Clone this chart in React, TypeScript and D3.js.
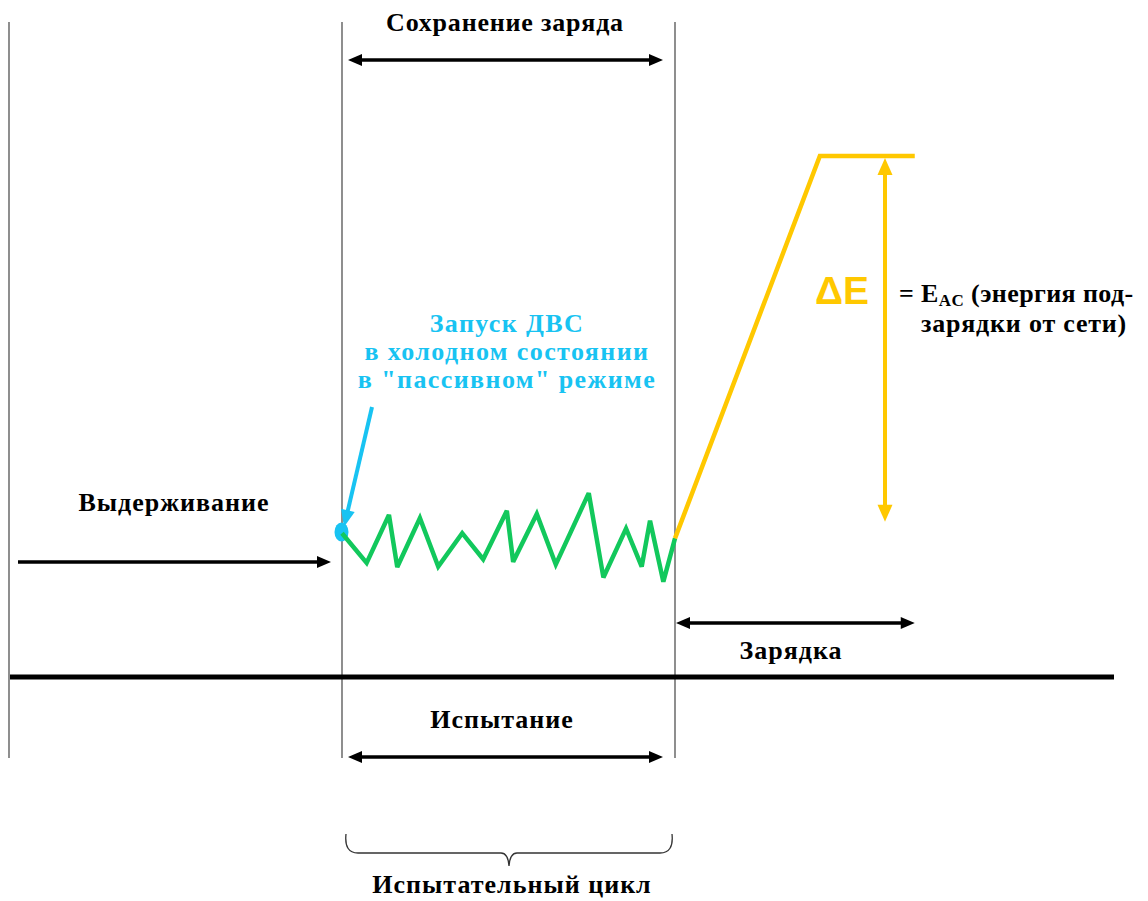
import React from "react";
import * as d3 from "d3";

// Abstract units: time t (test cycle 0..100), energy E (0..100)
const soakStart = -100;
const testStart = 0;
const testEnd = 100;
const chargeEnd = 172;

const greenT = [0, 7.4, 14.1, 16.6, 23.4, 28.9, 36.1, 42.4, 49.5, 51.4, 58.5, 64.2, 74.1, 78.5, 85.3, 90.0, 92.5, 96.5, 100];
const greenE = [27.6, 21.9, 31.1, 21.1, 30.5, 21.2, 27.6, 22.6, 31.9, 22.1, 31.3, 21.6, 35.3, 19.1, 28.5, 21.2, 30.0, 18.3, 26.6];
const yellowT = [100, 143.5, 172];
const yellowE = [26.6, 100, 100];

const labels = {
  keep: "Сохранение заряда",
  soak: "Выдерживание",
  charge: "Зарядка",
  test: "Испытание",
  cycle: "Испытательный цикл",
  start: ["Запуск ДВС", "в холодном состоянии", "в \"пассивном\" режиме"],
  de: "ΔE",
  eq1a: "= E",
  eqSub: "AC",
  eq1b: " (энергия под-",
  eq2: "зарядки от сети)",
};

const W = 1148, H = 901;
const x = d3.scaleLinear().domain([soakStart, testEnd]).range([9, 675]);
const y = d3.scaleLinear().domain([0, 100]).range([677, 156]);

const GREEN = "#12c85c";
const YELLOW = "#ffc800";
const BLUE = "#18c3f2";
const serif = "'Liberation Serif', 'Times New Roman', serif";
const FS = 26;

function Head({ x1, y1, x2, y2, len, wid, fill }: any) {
  const a = Math.atan2(y2 - y1, x2 - x1);
  const bx = x2 - len * Math.cos(a), by = y2 - len * Math.sin(a);
  const px = Math.sin(a) * wid / 2, py = -Math.cos(a) * wid / 2;
  return <polygon points={`${x2},${y2} ${bx + px},${by + py} ${bx - px},${by - py}`} fill={fill} />;
}

function Arrow({ x1, y1, x2, y2, both, color = "#000", sw = 3.5, len = 14, wid = 12 }: any) {
  const a = Math.atan2(y2 - y1, x2 - x1);
  const lx1 = both ? x1 + (len - 2) * Math.cos(a) : x1;
  const ly1 = both ? y1 + (len - 2) * Math.sin(a) : y1;
  const lx2 = x2 - (len - 2) * Math.cos(a), ly2 = y2 - (len - 2) * Math.sin(a);
  return (
    <g>
      <line x1={lx1} y1={ly1} x2={lx2} y2={ly2} stroke={color} strokeWidth={sw} />
      <Head x1={x1} y1={y1} x2={x2} y2={y2} len={len} wid={wid} fill={color} />
      {both && <Head x1={x2} y1={y2} x2={x1} y2={y1} len={len} wid={wid} fill={color} />}
    </g>
  );
}

function Label({ x, y, children, fill = "#000", ls = 1, anchor = "middle" }: any) {
  return (
    <text x={x} y={y} textAnchor={anchor} fontFamily={serif} fontWeight="bold" fontSize={FS} letterSpacing={ls} fill={fill}>{children}</text>
  );
}

export default function App() {
  const line = d3.line<[number, number]>().x(d => x(d[0])).y(d => y(d[1]));
  const greenPts = greenT.map((t, i) => [t, greenE[i]] as [number, number]);
  const yellowPts = yellowT.map((t, i) => [t, yellowE[i]] as [number, number]);
  const xs = x(testStart), xe = x(testEnd), xc = x(chargeEnd), x0 = x(soakStart);
  const bl = 346, br = 672, bm = (bl + br) / 2;
  return (
    <svg width={W} height={H} style={{ position: "absolute", left: 0, top: 0, background: "#fff" }}>
      {/* vertical thin lines */}
      {[x0, xs, xe].map((vx, i) => (
        <line key={i} x1={vx} y1={22} x2={vx} y2={758} stroke="#444" strokeWidth={1.2} />
      ))}
      {/* baseline */}
      <line x1={10} y1={y(0)} x2={1114} y2={y(0)} stroke="#000" strokeWidth={5} />

      {/* top arrow */}
      <Label x={505} y={31} ls={0.8}>{labels.keep}</Label>
      <Arrow x1={348} y1={60} x2={663} y2={60} both />

      {/* soak */}
      <Label x={174} y={511}>{labels.soak}</Label>
      <Arrow x1={18} y1={562} x2={331} y2={562} />

      {/* charge */}
      <Arrow x1={676} y1={623} x2={xc} y2={623} both />
      <Label x={791} y={659}>{labels.charge}</Label>

      {/* test */}
      <Label x={502} y={728}>{labels.test}</Label>
      <Arrow x1={348} y1={757} x2={663} y2={757} both />

      {/* brace */}
      <path
        d={`M${bl},${834} Q${bl - 2},${853} ${bl + 12},${853} L${bm - 8},${853} Q${bm - 1},${853} ${bm},${866} Q${bm + 1},${853} ${bm + 8},${853} L${br - 12},${853} Q${br + 2},${853} ${br},${834}`}
        fill="none" stroke="#333" strokeWidth={1.3} />
      <Label x={512} y={893}>{labels.cycle}</Label>

      {/* blue annotation */}
      {labels.start.map((s, i) => (
        <Label key={i} x={507} y={332 + i * 28} ls={1.4} fill={BLUE}>{s}</Label>
      ))}
      <Arrow x1={372} y1={407} x2={344} y2={527} color={BLUE} sw={4} len={17} wid={14} />
      <ellipse cx={341.5} cy={532} rx={7} ry={9.5} fill={BLUE} />

      {/* green SOC */}
      <path d={line(greenPts) || ""} fill="none" stroke={GREEN} strokeWidth={4.5} strokeLinejoin="miter" strokeMiterlimit={3} />
      {/* yellow charge */}
      <path d={line(yellowPts) || ""} fill="none" stroke={YELLOW} strokeWidth={4.5} strokeLinejoin="miter" />

      {/* ΔE arrow */}
      <Arrow x1={885} y1={y(100) + 2} x2={885} y2={y(30) + 1} both color={YELLOW} sw={4} len={17} wid={15} />
      <text x={842} y={304} textAnchor="middle" fontFamily="'Liberation Sans', Arial, sans-serif" fontWeight="bold" fontSize={39} fill={YELLOW}>{labels.de}</text>
      <text x={899} y={302} fontFamily={serif} fontWeight="bold" fontSize={FS} letterSpacing={0.4}>
        {labels.eq1a}
        <tspan fontSize={17} dy={4}>{labels.eqSub}</tspan>
        <tspan dy={-4}>{labels.eq1b}</tspan>
      </text>
      <Label x={1024} y={332} ls={0.8}>{labels.eq2}</Label>
    </svg>
  );
}
